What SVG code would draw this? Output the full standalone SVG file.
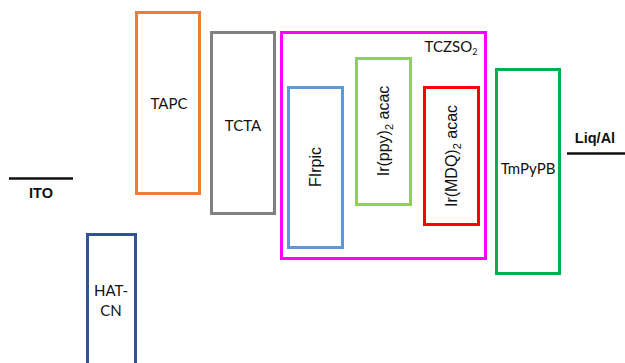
<svg xmlns="http://www.w3.org/2000/svg" width="625" height="363" viewBox="0 0 625 363">
<style>
.box{fill:none;stroke-width:3}
.t{font-family:Lato,"Open Sans","Liberation Sans",sans-serif;font-size:15px;fill:#111;text-anchor:middle}
.r{font-family:"Liberation Sans",Arial,sans-serif;font-size:16px;fill:#111;text-anchor:middle}
.b{font-family:"Liberation Sans",Arial,sans-serif;font-size:14.5px;font-weight:bold;fill:#111;text-anchor:middle}
.lvl{stroke:#111;stroke-width:2.5}
</style>
<rect width="625" height="363" fill="#fff"/>
<g id="ITO">
<line class="lvl" x1="9" y1="178.5" x2="73" y2="178.5"/>
<text class="b" x="41" y="198">ITO</text>
</g>
<g id="HAT-CN">
<rect class="box" x="87.5" y="234.5" width="48" height="140" stroke="#2F5597"/>
<text class="t" x="111" y="296">HAT-</text>
<text class="t" x="111" y="316">CN</text>
</g>
<g id="TAPC">
<rect class="box" x="136.5" y="12.5" width="63" height="181" stroke="#ED7D31"/>
<text class="t" x="169" y="109">TAPC</text>
</g>
<g id="TCTA">
<rect class="box" x="211.5" y="32.5" width="63" height="181" stroke="#808080"/>
<text class="t" x="243" y="131">TCTA</text>
</g>
<g id="TCZSO2">
<rect class="box" x="281.5" y="32.5" width="204" height="226" stroke="#FF00FF"/>
<text class="t" x="451" y="52" font-size="13">TCZSO<tspan font-size="9" dy="3">2</tspan></text>
</g>
<g id="FIrpic">
<rect class="box" x="288.5" y="87.5" width="54" height="160" stroke="#5B9BD5"/>
<text class="r" transform="translate(321,167) rotate(-90)">FIrpic</text>
</g>
<g id="Irppy">
<rect class="box" x="356.5" y="58.5" width="54" height="146" stroke="#92D050"/>
<text class="r" transform="translate(389,131) rotate(-90)">Ir(ppy)<tspan font-size="11" dy="4">2</tspan><tspan dy="-4"> acac</tspan></text>
</g>
<g id="IrMDQ">
<rect class="box" x="424.5" y="87.5" width="54" height="137" stroke="#FF0000"/>
<text class="r" transform="translate(457,156) rotate(-90)">Ir(MDQ)<tspan font-size="11" dy="4">2</tspan><tspan dy="-4"> acac</tspan></text>
</g>
<g id="TmPyPB">
<rect class="box" x="496.5" y="69.5" width="63" height="204" stroke="#00B050"/>
<text class="t" x="528" y="174" font-size="11.5">TmPyPB</text>
</g>
<g id="LiqAl">
<line class="lvl" x1="567" y1="153.5" x2="625" y2="153.5"/>
<text class="b" x="595" y="143">Liq/Al</text>
</g>
<g id="connectors"></g>
</svg>
